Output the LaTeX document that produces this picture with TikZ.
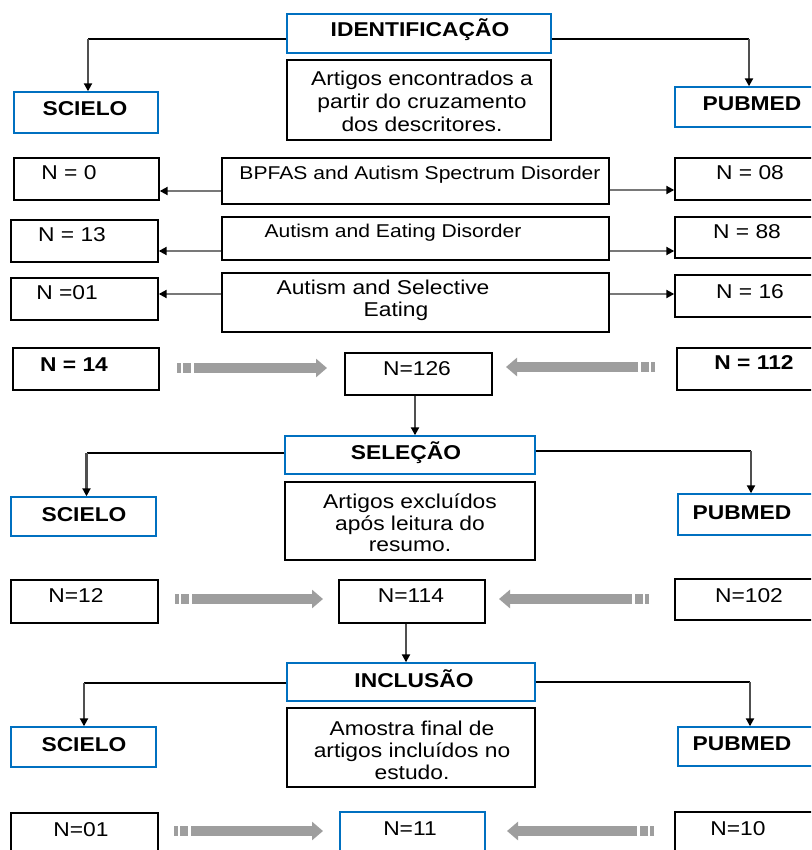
\documentclass[tikz,border=0pt]{standalone}
\usepackage{fontspec}
\setmainfont{Liberation Sans}[FakeStretch=1.14]
\usetikzlibrary{arrows.meta,calc}
\definecolor{bblue}{RGB}{0,112,192}
\definecolor{gshaft}{RGB}{120,120,120}
\definecolor{garrowc}{RGB}{158,158,158}
\definecolor{vshaft}{RGB}{80,80,80}
\tikzset{
  box/.style={draw=black, line width=1.4pt, inner sep=0pt},
  bbox/.style={draw=bblue, line width=1.4pt, inner sep=0pt},
  txt/.style={font=\fontsize{20}{23}\selectfont, inner sep=0pt, text height=14pt, text depth=4pt},
  btxt/.style={inner sep=0pt, text height=14pt, text depth=4pt, font=\fontsize{20}{23}\selectfont\bfseries},
  stxt/.style={inner sep=0pt, text height=13pt, text depth=4pt, font=\fontsize{18.5}{22}\selectfont},
  mtxt/.style={font=\fontsize{20}{22.5}\selectfont, inner sep=0pt, align=center},
  hline/.style={draw=black, line width=1.2pt},
  vline/.style={draw=vshaft, line width=2.6pt, -{Triangle[length=8pt,width=8pt,color=black]}},
  sidearrow/.style={draw=gshaft, line width=2.8pt, -{Triangle[length=8pt,width=8pt,color=black]}},
}
\newcommand\gstripe[2]{%
  \draw[draw=garrowc, line width=10pt] (#1) -- ($(#1)!4pt!(#2)$);
  \draw[draw=garrowc, line width=10pt] ($(#1)!6pt!(#2)$) -- ($(#1)!14pt!(#2)$);
  \draw[draw=garrowc, line width=10pt, -{Triangle[length=11pt,width=18pt]}] ($(#1)!17pt!(#2)$) -- (#2);}
\begin{document}
\begin{tikzpicture}[x=1pt, y=-1pt]
\useasboundingbox (0,0) rectangle (811,850);
\clip (0,0) rectangle (811,850);
\fill[white] (0,0) rectangle (811,850);

% ---------- IDENTIFICACAO ----------
\node[bbox, minimum width=264pt, minimum height=39pt] (ident) at (419,33.5) {};
\node[btxt] (tident) at (420,32) {IDENTIFICAÇÃO};
\node[bbox, minimum width=144pt, minimum height=41pt] (sci1) at (86,112.5) {};
\node[btxt] (tsci1) at (85,111) {SCIELO};
\node[bbox, minimum width=148pt, minimum height=40pt] (pub1) at (749,107) {};
\node[btxt] (tpub1) at (752,106) {PUBMED};
\node[box, minimum width=264pt, minimum height=80pt] (art1) at (419,100) {};
\node[mtxt, font=\fontsize{20}{23}\selectfont] (tart1) at (422,101) {Artigos encontrados a\\partir do cruzamento\\dos descritores.};

\coordinate (i1) at ([yshift=-5.5pt]ident.west);
\coordinate (i2) at ([yshift=-5.5pt]ident.east);
\coordinate (c1) at ([xshift=2pt]sci1.north);
\draw[hline] (i1) -- (c1 |- i1);
\draw[vline] (c1 |- i1) -- (c1);
\draw[hline] (i2) -- (pub1.north |- i2);
\draw[vline] (pub1.north |- i2) -- (pub1.north);

% rows of search terms
\node[box, minimum width=145pt, minimum height=42pt] (n0) at (86.5,179) {};
\node[txt] (tn0) at (69,175) {N = 0};
\node[box, minimum width=387pt, minimum height=46pt] (bp) at (415.5,181) {};
\node[stxt] (tbp) at (420,175) {BPFAS and Autism Spectrum Disorder};
\node[box, minimum width=150pt, minimum height=42pt] (n08) at (750,179) {};
\node[txt] (tn08) at (750,175) {N = 08};
\draw[sidearrow] (bp.west |- 0,191) -- (n0.east |- 0,191);
\draw[sidearrow] (bp.east |- 0,190) -- (n08.west |- 0,190);

\node[box, minimum width=147pt, minimum height=42pt] (n13) at (84.5,241) {};
\node[txt] (tn13) at (72,236) {N = 13};
\node[box, minimum width=387pt, minimum height=43pt] (aed) at (415.5,238.5) {};
\node[stxt] (taed) at (393,233) {Autism and Eating Disorder};
\node[box, minimum width=150pt, minimum height=41pt] (n88) at (750,237.5) {};
\node[txt] (tn88) at (747,233) {N = 88};
\draw[sidearrow] (aed.west |- 0,251) -- (n13.east |- 0,251);
\draw[sidearrow] (aed.east |- 0,251) -- (n88.west |- 0,251);

\node[box, minimum width=147pt, minimum height=42pt] (n01a) at (84.5,299) {};
\node[txt] (tn01a) at (67,294) {N =01};
\node[box, minimum width=387pt, minimum height=59pt] (ase) at (415.5,302.5) {};
\node[txt] (tase1) at (383,289) {Autism and Selective};
\node[txt] (tase2) at (396,311) {Eating};
\node[box, minimum width=150pt, minimum height=42pt] (n16) at (750,296) {};
\node[txt] (tn16) at (750,293) {N = 16};
\draw[sidearrow] (ase.west |- 0,294) -- (n01a.east |- 0,294);
\draw[sidearrow] (ase.east |- 0,294) -- (n16.west |- 0,294);

% totals
\node[box, minimum width=146pt, minimum height=42pt] (n14) at (86,369) {};
\node[btxt] (tn14) at (74,366) {N = 14};
\node[box, minimum width=147pt, minimum height=42pt] (n126) at (418.5,374) {};
\node[txt] (tn126) at (417,370) {N=126};
\node[box, minimum width=148pt, minimum height=42pt] (n112) at (751,369) {};
\node[btxt] (tn112) at (754,364) {N = 112};
\coordinate (g1s) at (177,368); \coordinate (g1e) at (327,368);
\coordinate (g2s) at (655,367); \coordinate (g2e) at (506,367);
\gstripe{g1s}{g1e}
\gstripe{g2s}{g2e}

% ---------- SELECAO ----------
\node[bbox, minimum width=250pt, minimum height=38pt] (sel) at (410,455) {};
\node[btxt] (tsel) at (406,454) {SELEÇÃO};
\coordinate (d1) at ([xshift=-3.5pt]n126.south);
\draw[vline] (d1) -- (d1 |- sel.north);

\node[bbox, minimum width=145pt, minimum height=39pt] (sci2) at (83.5,516.5) {};
\node[btxt] (tsci2) at (84,516) {SCIELO};
\node[bbox, minimum width=146pt, minimum height=41pt] (pub2) at (751,514.5) {};
\node[btxt] (tpub2) at (742,514) {PUBMED};
\node[box, minimum width=250pt, minimum height=78pt] (ex) at (410,521) {};
\node[mtxt, font=\fontsize{20}{21.5}\selectfont] (tex) at (410,523) {Artigos excluídos\\após leitura do\\resumo.};

\coordinate (s1) at ([yshift=2pt]sel.west);
\coordinate (s2) at ([yshift=4pt]sel.east);
\coordinate (c2) at ([xshift=3pt]sci2.north);
\draw[hline] (s1) -- (c2 |- s1);
\draw[vline] (c2 |- s1) -- (c2);
\draw[hline] (s2) -- (pub2.north |- s2);
\draw[vline] (pub2.north |- s2) -- (pub2.north);

\node[box, minimum width=147pt, minimum height=43pt] (n12) at (84.5,601.5) {};
\node[txt] (tn12) at (76,597) {N=12};
\node[box, minimum width=146pt, minimum height=43pt] (n114) at (412,601.5) {};
\node[txt] (tn114) at (411,597) {N=114};
\node[box, minimum width=150pt, minimum height=41pt] (n102) at (750,599.5) {};
\node[txt] (tn102) at (749,597) {N=102};
\coordinate (g3s) at (175,599); \coordinate (g3e) at (323,599);
\coordinate (g4s) at (649,599); \coordinate (g4e) at (499,599);
\gstripe{g3s}{g3e}
\gstripe{g4s}{g4e}

% ---------- INCLUSAO ----------
\node[bbox, minimum width=248pt, minimum height=38pt] (inc) at (411,682) {};
\node[btxt] (tinc) at (414,682) {INCLUSÃO};
\coordinate (d2) at ([xshift=-6pt]n114.south);
\draw[vline] (d2) -- (d2 |- inc.north);

\node[bbox, minimum width=145pt, minimum height=40pt] (sci3) at (83.5,747) {};
\node[btxt] (tsci3) at (84,746) {SCIELO};
\node[bbox, minimum width=144pt, minimum height=39pt] (pub3) at (750,746.5) {};
\node[btxt] (tpub3) at (742,745) {PUBMED};
\node[box, minimum width=248pt, minimum height=79pt] (am) at (411,747.5) {};
\node[mtxt, font=\fontsize{20}{22}\selectfont] (tam) at (412,750) {Amostra final de\\artigos incluídos no\\estudo.};

\coordinate (k1) at ([yshift=-1pt]inc.west);
\coordinate (k2) at (inc.east);
\coordinate (c3) at ([xshift=0.5pt]sci3.north);
\draw[hline] (k1) -- (c3 |- k1);
\draw[vline] (c3 |- k1) -- (c3);
\draw[hline] (k2) -- (pub3.north |- k2);
\draw[vline] (pub3.north |- k2) -- (pub3.north);

\node[box, minimum width=147pt, minimum height=58pt] (n01b) at (84.5,842) {};
\node[txt] (tn01b) at (81,831) {N=01};
\node[bbox, minimum width=145pt, minimum height=58pt] (n11) at (412.5,841) {};
\node[txt] (tn11) at (410,830) {N=11};
\node[box, minimum width=150pt, minimum height=58pt] (n10) at (750,841) {};
\node[txt] (tn10) at (738,830) {N=10};
\coordinate (g5s) at (174,831); \coordinate (g5e) at (323,831);
\coordinate (g6s) at (654,831); \coordinate (g6e) at (507,831);
\gstripe{g5s}{g5e}
\gstripe{g6s}{g6e}
\end{tikzpicture}
\end{document}
